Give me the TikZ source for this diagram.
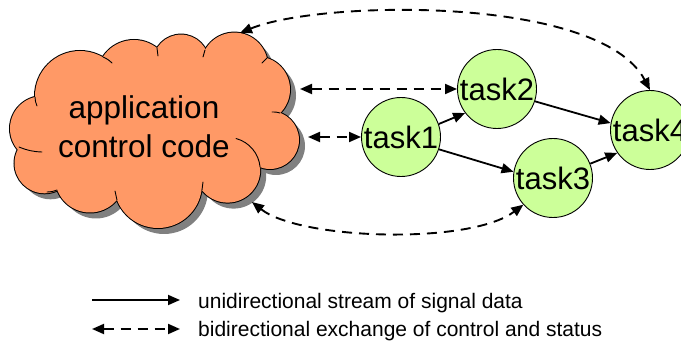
\documentclass[tikz,border=0pt]{standalone}
\usepackage{fontspec}
\setmainfont{Liberation Sans}
\usetikzlibrary{arrows.meta}

\definecolor{cloudfill}{HTML}{FF9966}
\definecolor{taskfill}{HTML}{CCFF99}
\definecolor{shadowgrey}{HTML}{808080}

% bumps of the cloud: centre x / centre y / radius
\def\cloudbumps{42.5/128.6/32.5, 80/96/45, 134/77/37, 181/62.6/28, 234.4/66.1/33.5, 257/89.5/33, 270/140/29, 227.6/170/32.6, 158/184/44, 90/177.5/35, 44.5/163.3/30}

% one filled layer of the cloud (bumps plus the core joining their centres)
\newcommand\cloudlayer[1]{%
  \foreach \cx/\cy/\r in \cloudbumps {\fill[#1] (\cx,\cy) circle[radius=\r];}
  \fill[#1] (42.5,128.6) -- (80,96) -- (134,77) -- (181,62.6) -- (234.4,66.1) -- (257,89.5)
    -- (270,140) -- (227.6,170) -- (158,184) -- (90,177.5) -- (44.5,163.3) -- cycle;
}

\tikzset{
  task/.style={circle, draw=black, line width=0.9pt, fill=taskfill, minimum size=79pt,
    inner sep=0pt, font=\fontsize{31}{31}\selectfont},
  tip/.style={Triangle[length=12pt,width=10pt]},
  flow/.style={line width=1.8pt, -{Triangle[length=12pt,width=10pt]}},
  ctrl/.style={line width=1.9pt, dash pattern=on 10pt off 7pt,
    {Triangle[length=12pt,width=10pt]}-{Triangle[length=12pt,width=10pt]}},
  crease/.style={line width=0.9pt, line cap=round},
  legendtext/.style={anchor=base west, inner sep=0pt, font=\fontsize{21}{24}\selectfont},
}

\begin{document}
\begin{tikzpicture}[x=1pt, y=-1pt]
\useasboundingbox (0,0) rectangle (681,347);
\clip (0,0) rectangle (681,347);

% cloud: drop shadow, outline, fill, creases
\begin{scope}[shift={(6,6)}]
  \cloudlayer{shadowgrey}
\end{scope}
\foreach \cx/\cy/\r in \cloudbumps {\draw[line width=2pt] (\cx,\cy) circle[radius=\r];}
\cloudlayer{cloudfill}
\draw[crease] (35,97) to[bend right=10] (37,106);
\draw[crease] (103,57) to[bend left=10] (112,63);
\draw[crease] (157,48) to (158,56);
\draw[crease] (205,50) to (203,57);
\draw[crease] (267,58) to (262,63);
\draw[crease] (280,113) to[bend right=10] (272,112);
\draw[crease] (227.6,170) ++(-5:32.6) arc[start angle=-5, end angle=-75, radius=32.6];
\draw[crease] (202,190) to (203,182);
\draw[crease] (117,200) to (115,191);
\draw[crease] (57,190) to[bend left=10] (47,192);
\draw[crease] (19,147) to[bend right=10] (42,152);

\node[align=center, inner sep=0pt, font=\fontsize{31.5}{39}\selectfont] (app) at (144,127) {application\\control code};

% connector ends on the cloud
\coordinate (cT) at (240,33);
\coordinate (cR1) at (300,89);
\coordinate (cR2) at (308,137);
\coordinate (cB) at (252,202);

% tasks
\node[task] (task1) at (401,137) {task1};
\node[task] (task2) at (497,89) {task2};
\node[task] (task3) at (553,178) {task3};
\node[task] (task4) at (650,130) {task4};

% signal data
\draw[flow] (task1.19) -- (task2.217);
\draw[flow] (task1.-18) -- (task3.171);
\draw[flow] (task2.-18) -- (task4.170);
\draw[flow] (task3.21) -- (task4.215);

% control and status
\draw[ctrl] (cR1) -- (task2.west);
\draw[ctrl] (cR2) -- (task1.west);
\draw[ctrl] (cT) .. controls (320,0) and (600,-5) .. (task4.north);
\draw[ctrl] (cB) .. controls (300,240) and (470,245) .. (task3.222);

% legend
\coordinate (l1a) at (92,300);
\coordinate (l1b) at (180,300);
\draw[flow] (l1a) -- (l1b);
\node[legendtext] (l1) at (198,308.5) {unidirectional stream of signal data};
\coordinate (l2a) at (92,329);
\coordinate (l2b) at (180,329);
\draw[ctrl] (l2a) -- (l2b);
\node[legendtext] (l2) at (198,337) {bidirectional exchange of control and status};
\end{tikzpicture}
\end{document}
